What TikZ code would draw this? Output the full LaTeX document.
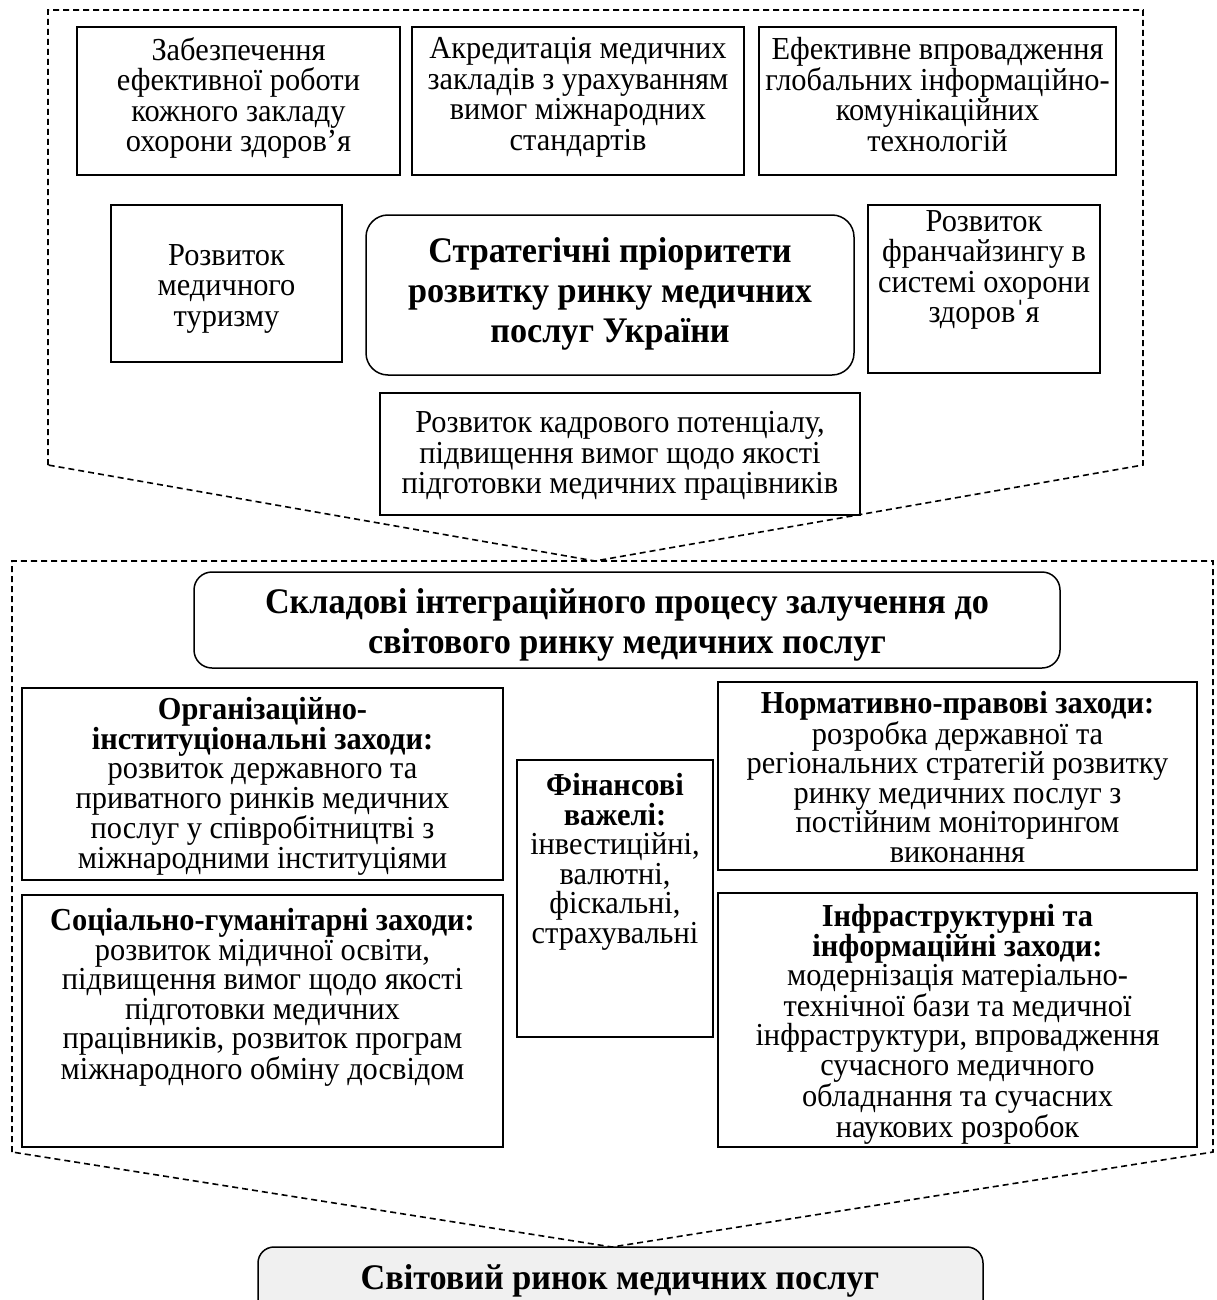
\documentclass[tikz,border=0pt]{standalone}
\usepackage{fontspec}
\setmainfont{Liberation Serif}[FakeStretch=0.95]
\usetikzlibrary{fit}
\newcommand\bodyfs{\fontsize{32}{30.5}\selectfont}
\newcommand\lowfs{\fontsize{32}{29.5}\selectfont}
\newcommand\headfs{\fontsize{36}{40}\selectfont\bfseries}
\tikzset{
  box/.style={draw, line width=1.5pt, inner sep=0pt},
  rbox/.style={box, rounded corners=22pt},
  txt/.style={align=center, inner sep=0pt, font=\bodyfs},
  ltxt/.style={align=center, inner sep=0pt, font=\lowfs},
  htxt/.style={align=center, inner sep=0pt, font=\headfs},
  dline/.style={line width=1.6pt, dash pattern=on 6pt off 4pt},
}
\begin{document}
\begin{tikzpicture}[x=1pt,y=-1pt]
\useasboundingbox (0,0) rectangle (1217,1300);

% dashed frames
\draw[dline] (48,465) -- (48,10) -- (1143,10) -- (1143,465) -- (595,561) -- cycle;
\draw[dline] (12,1152) -- (12,561) -- (1213,561) -- (1213,1152) -- (612,1247) -- cycle;

% top row
\node[box, fit={(77,27)(400,175)}] (a1) {};
\node[txt, anchor=north] (ta1) at ([yshift=-11pt]a1.north) {Забезпечення\\ефективної роботи\\кожного закладу\\охорони здоров’я};
\node[box, fit={(412,27)(744,175)}] (a2) {};
\node[txt, anchor=north] (ta2) at ([yshift=-11pt]a2.north) {Акредитація медичних\\закладів з урахуванням\\вимог міжнародних\\стандартів};
\node[box, fit={(759,27)(1116,175)}] (a3) {};
\node[txt, anchor=north] (ta3) at ([yshift=-11pt]a3.north) {Ефективне впровадження\\глобальних інформаційно-\\комунікаційних\\технологій};

% middle row
\node[box, fit={(111,205)(342,362)}] (m1) {};
\node[txt] (tm1) at ([yshift=-5pt]m1.center) {Розвиток\\медичного\\туризму};
\node[rbox, fit={(366,215)(854,375)}] (c) {};
\node[htxt] (tc) at ([yshift=1pt]c.center) {Стратегічні пріоритети\\розвитку ринку медичних\\послуг України};
\node[box, fit={(868,205)(1100,373)}] (m2) {};
\node[txt, anchor=north] (tm2) at ([yshift=-6pt]m2.north) {Розвиток\\франчайзингу в\\системі охорони\\здоров\symbol{"02C8}я};
\node[box, fit={(380,393)(860,515)}] (a4) {};
\node[txt] (ta4) at ([yshift=-2pt]a4.center) {Розвиток кадрового потенціалу,\\підвищення вимог щодо якості\\підготовки медичних працівників};

% lower section
\node[box, rounded corners=18pt, fit={(194,572)(1060,668)}] (s) {};
\node[htxt, anchor=north] (ts) at ([yshift=-17pt]s.north) {Складові інтеграційного процесу залучення до\\світового ринку медичних послуг};

\node[box, fit={(22,688)(503,880)}] (o) {};
\node[ltxt, anchor=north] (to) at ([yshift=-10pt]o.north) {\textbf{Організаційно-}\\\textbf{інституціональні заходи:}\\розвиток державного та\\приватного ринків медичних\\послуг у співробітництві з\\міжнародними інституціями};

\node[box, fit={(517,760)(713,1037)}] (f) {};
\node[ltxt, anchor=north] (tf) at ([yshift=-14pt]f.north) {\textbf{Фінансові}\\\textbf{важелі:}\\інвестиційні,\\валютні,\\фіскальні,\\страхувальні};

\node[box, fit={(718,682)(1197,870)}] (n) {};
\node[ltxt, anchor=north] (tn) at ([yshift=-10pt]n.north) {\textbf{Нормативно-правові заходи:}\\розробка державної та\\регіональних стратегій розвитку\\ринку медичних послуг з\\постійним моніторингом\\виконання};

\node[box, fit={(22,895)(503,1147)}] (so) {};
\node[ltxt, anchor=north] (tso) at ([yshift=-14pt]so.north) {\textbf{Соціально-гуманітарні заходи:}\\розвиток мідичної освіти,\\підвищення вимог щодо якості\\підготовки медичних\\працівників, розвиток програм\\міжнародного обміну досвідом};

\node[box, fit={(718,893)(1197,1147)}] (i) {};
\node[ltxt, anchor=north] (ti) at ([yshift=-12pt]i.north) {\textbf{Інфраструктурні та}\\\textbf{інформаційні заходи:}\\модернізація матеріально-\\технічної бази та медичної\\інфраструктури, впровадження\\сучасного медичного\\обладнання та сучасних\\наукових розробок};

% final box
\node[box, rounded corners=16pt, fill={rgb,255:red,240;green,240;blue,240}, fit={(258,1247)(983,1340)}] (w) {};
\node[htxt] (tw) at (620,1281) {Світовий ринок медичних послуг};
\end{tikzpicture}
\end{document}
